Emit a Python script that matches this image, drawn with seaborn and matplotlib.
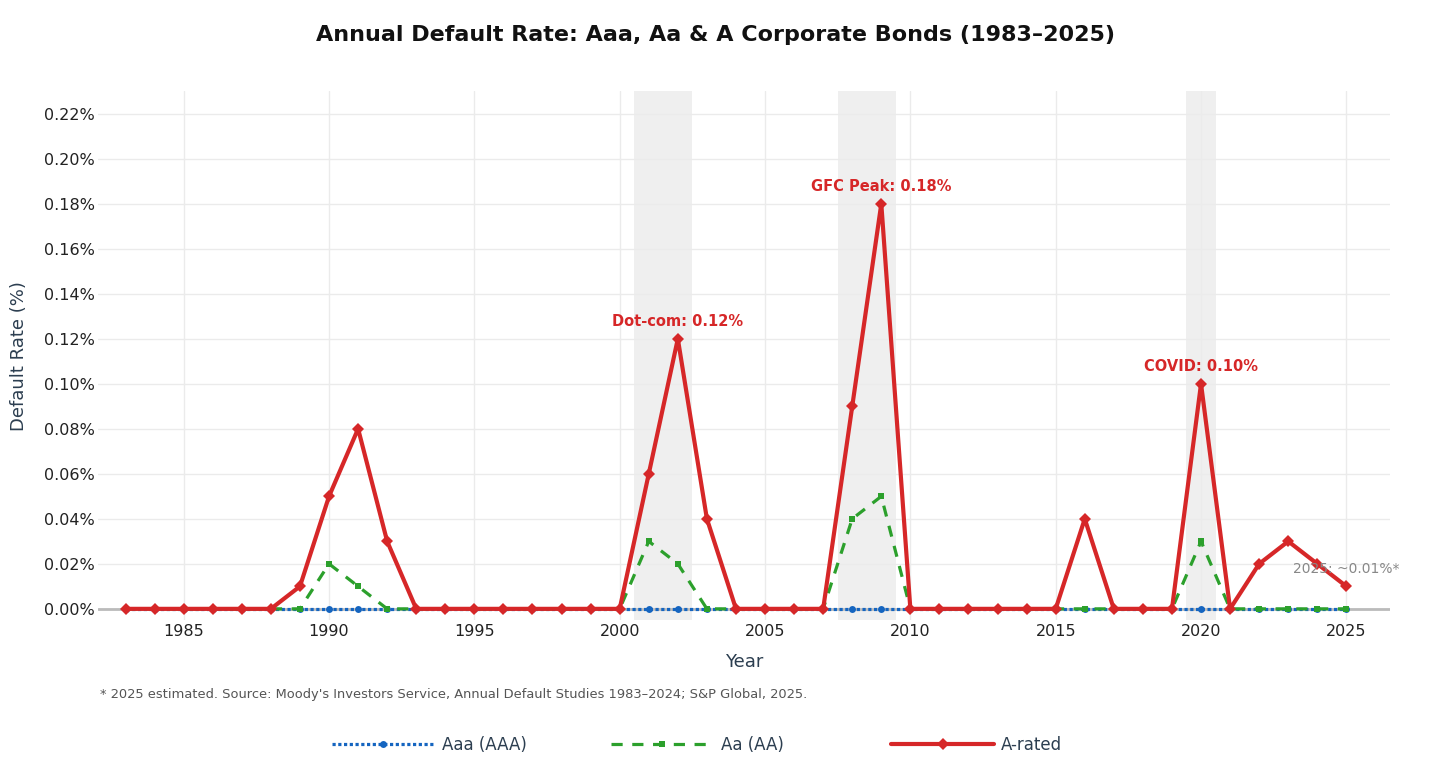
import matplotlib
matplotlib.use("Agg")
import matplotlib.pyplot as plt
import matplotlib.ticker as mticker
import numpy as np
import pandas as pd
import seaborn as sns

# ------------------------------------------------------------------
# Data (annual default rates, %)
# ------------------------------------------------------------------
years = list(range(1983, 2026))

aaa_rate = [0.0] * len(years)

aa_rate = [
    0.00, 0.00, 0.00, 0.00, 0.00, 0.00, 0.00, 0.02, 0.01, 0.00,  # 1983-1992
    0.00, 0.00, 0.00, 0.00, 0.00, 0.00, 0.00, 0.00, 0.03, 0.02,  # 1993-2002
    0.00, 0.00, 0.00, 0.00, 0.00, 0.04, 0.05, 0.00, 0.00, 0.00,  # 2003-2012
    0.00, 0.00, 0.00, 0.00, 0.00, 0.00, 0.00, 0.03, 0.00, 0.00,  # 2013-2022
    0.00, 0.00, 0.00,                                            # 2023-2025
]

a_rate = [
    0.00, 0.00, 0.00, 0.00, 0.00, 0.00, 0.01, 0.05, 0.08, 0.03,
    0.00, 0.00, 0.00, 0.00, 0.00, 0.00, 0.00, 0.00, 0.06, 0.12,
    0.04, 0.00, 0.00, 0.00, 0.00, 0.09, 0.18, 0.00, 0.00, 0.00,
    0.00, 0.00, 0.00, 0.04, 0.00, 0.00, 0.00, 0.10, 0.00, 0.02,
    0.03, 0.02, 0.01,
]

series_names = ["Aaa (AAA)", "Aa (AA)", "A-rated"]

# recession bands (start, end) in year units
recessions = [(2000.5, 2002.5), (2007.5, 2009.5), (2019.5, 2020.5)]

# peak call-outs
peak_years = [2002, 2009, 2020]
peak_labels = ["Dot-com: 0.12%", "GFC Peak: 0.18%", "COVID: 0.10%"]

df = pd.DataFrame({
    "year": years,
    series_names[0]: aaa_rate,
    series_names[1]: aa_rate,
    series_names[2]: a_rate,
})

# ------------------------------------------------------------------
# Styling
# ------------------------------------------------------------------
sns.set_theme(style="whitegrid")
plt.rcParams["font.family"] = ["DejaVu Sans"]

BLUE = "#1565c0"
GREEN = "#2ca02c"
RED = "#d62728"
SLATE = "#2c3e50"

styles = {
    series_names[0]: dict(color=BLUE, linestyle=(0, (1, 0.8)), marker="o",
                          markersize=5, linewidth=2.3, zorder=3),
    series_names[1]: dict(color=GREEN, linestyle=(0, (3.5, 3)), marker="s",
                          markersize=5, linewidth=2.3, zorder=4),
    series_names[2]: dict(color=RED, linestyle="-", marker="D",
                          markersize=6.5, linewidth=3, zorder=5),
}

fig = plt.figure(figsize=(14.3, 7.8), dpi=100)
ax = fig.add_axes([0.0685, 0.205, 0.9035, 0.678])

for lo, hi in recessions:
    ax.axvspan(lo, hi, color="#efefef", zorder=0.5, linewidth=0)

ax.axhline(0, color="#bbbbbb", linewidth=2, zorder=1)

for name in series_names:
    st = styles[name]
    sns.lineplot(data=df, x="year", y=name, ax=ax, label=name,
                 markeredgewidth=0, **st)

for yr, lab in zip(peak_years, peak_labels):
    val = df.loc[df["year"] == yr, series_names[2]].iloc[0]
    ax.text(yr, val + 0.0075, lab, ha="center", va="center",
            color=RED, fontsize=10.5, fontweight="bold", zorder=6)

ax.text(2025, 0.0175, "2025: ~0.01%*", ha="center", va="center",
        color="#888888", fontsize=10, zorder=6)

ax.set_xlim(1982.05, 2026.5)
ax.set_ylim(-0.005, 0.23)
ax.xaxis.set_major_locator(mticker.MultipleLocator(5))
ax.yaxis.set_major_locator(mticker.MultipleLocator(0.02))
ax.yaxis.set_major_formatter(mticker.FuncFormatter(lambda v, _: f"{v:.2f}%"))
ax.tick_params(axis="both", labelsize=11.5, labelcolor="#222222", length=0)
ax.tick_params(axis="y", pad=2)
ax.tick_params(axis="x", pad=3)
ax.grid(color="#ebebeb", linewidth=1)
for sp in ax.spines.values():
    sp.set_visible(False)

ax.set_xlabel("Year", fontsize=13, color=SLATE, labelpad=10)
ax.set_ylabel("Default Rate (%)", fontsize=13, color=SLATE, labelpad=12)

fig.suptitle("Annual Default Rate: Aaa, Aa & A Corporate Bonds (1983\u20132025)",
             fontsize=16, fontweight="bold", color="#111111", y=0.968)

fig.text(0.07, 0.109,
         "* 2025 estimated. Source: Moody's Investors Service, Annual Default "
         "Studies 1983\u20132024; S&P Global, 2025.",
         fontsize=9.4, color="#555555", va="center")

# one legend entry per slot, spaced evenly like the reference
ax.legend_.remove()
handles, labels = ax.get_legend_handles_labels()
slots = [0.232, 0.427, 0.623]
for h, lab, x0 in zip(handles, labels, slots):
    fig.legend([h], [lab], loc="center left", bbox_to_anchor=(x0, 0.045),
               frameon=False, fontsize=12, handlelength=6.2,
               handletextpad=0.4, borderpad=0, borderaxespad=0,
               labelcolor=SLATE)

fig.savefig("out.png", dpi=100)
plt.close(fig)
